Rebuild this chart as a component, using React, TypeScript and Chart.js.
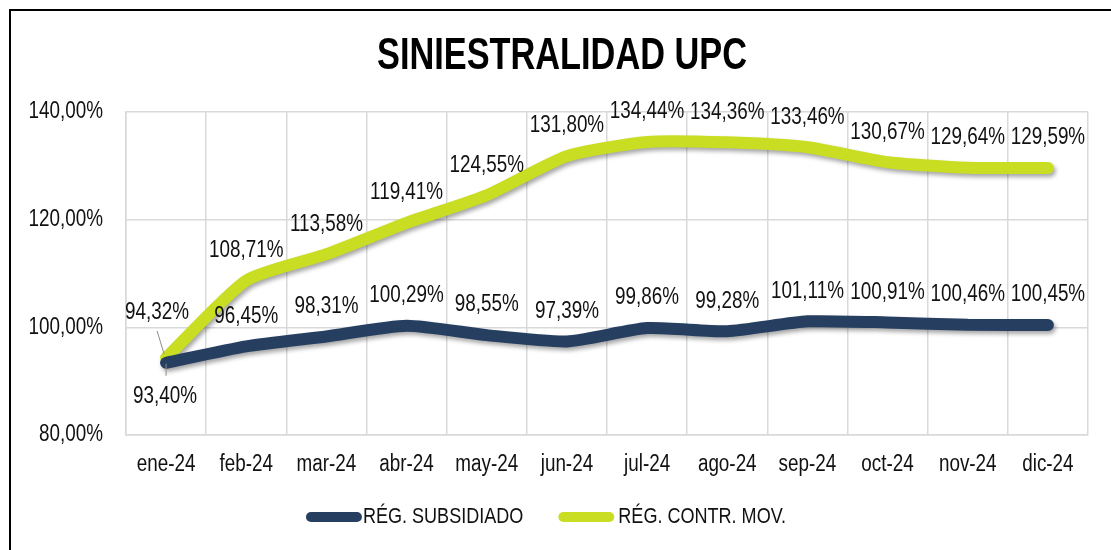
import { useEffect, useRef } from "react";
import { Chart, registerables } from "chart.js";

Chart.register(...registerables);

const categories = ["ene-24", "feb-24", "mar-24", "abr-24", "may-24", "jun-24", "jul-24", "ago-24", "sep-24", "oct-24", "nov-24", "dic-24"];
const subsidiado = [93.4, 96.45, 98.31, 100.29, 98.55, 97.39, 99.86, 99.28, 101.11, 100.91, 100.46, 100.45];
const contributivo = [94.32, 108.71, 113.58, 119.41, 124.55, 131.8, 134.44, 134.36, 133.46, 130.67, 129.64, 129.59];
const seriesNames = ["RÉG. SUBSIDIADO", "RÉG. CONTR. MOV."];
const yTicks = [80, 100, 120, 140];
const titleText = "SINIESTRALIDAD UPC";

const FONT = '"Liberation Sans", Arial, sans-serif';
const NARROW = 0.82;
const NAVY = "#263f61";
const LIME = "#c9dd22";
const GRID = "#d9d9d9";
const TEXT = "#111111";

const fmt = (v: number) => v.toFixed(2).replace(".", ",") + "%";

function drawNarrow(ctx: any, text: string, x: number, y: number, align: string, font: string, sx = NARROW) {
  ctx.save();
  ctx.font = font;
  ctx.textAlign = align;
  ctx.textBaseline = "middle";
  ctx.translate(x, y);
  ctx.scale(sx, 1);
  ctx.fillText(text, 0, 0);
  ctx.restore();
}

const shadowPlugin = {
  id: "lineShadow",
  beforeDatasetsDraw(chart: any) {
    const ctx = chart.ctx;
    ctx.save();
    ctx.shadowColor = "rgba(0,0,0,0.35)";
    ctx.shadowBlur = 4;
    ctx.shadowOffsetX = 2;
    ctx.shadowOffsetY = 3;
  },
  afterDatasetsDraw(chart: any) {
    chart.ctx.restore();
  },
};

const labelPlacement: Record<number, Record<number, { dx: number; dy: number; leader?: [number, number, number, number] }>> = {
  0: { 0: { dx: -1, dy: 34, leader: [0, 1, 0, 13] } },
  1: { 0: { dx: -9, dy: -45, leader: [-2, -4, -9, -27] } },
};

const overlayPlugin = {
  id: "overlay",
  afterDraw(chart: any) {
    const ctx = chart.ctx;
    const area = chart.chartArea;
    ctx.save();
    ctx.fillStyle = TEXT;
    const tickFont = `23px ${FONT}`;
    // y tick labels
    const ys = chart.scales.y;
    ys.ticks.forEach((t: any) => {
      drawNarrow(ctx, fmt(t.value), area.left - 23, ys.getPixelForValue(t.value), "right", tickFont);
    });
    // x tick labels
    const xs = chart.scales.x;
    categories.forEach((c, i) => {
      drawNarrow(ctx, c, xs.getPixelForTick(i), area.bottom + 30, "center", tickFont);
    });
    // data labels
    chart.data.datasets.forEach((ds: any, i: number) => {
      const meta = chart.getDatasetMeta(i);
      meta.data.forEach((pt: any, j: number) => {
        const special = labelPlacement[i] && labelPlacement[i][j];
        const dx = special ? special.dx : 0;
        const dy = special ? special.dy : -30;
        if (special && special.leader) {
          const [x1, y1, x2, y2] = special.leader;
          ctx.strokeStyle = "#8c8c8c";
          ctx.lineWidth = 1;
          ctx.beginPath();
          ctx.moveTo(pt.x + x1, pt.y + y1);
          ctx.lineTo(pt.x + x2, pt.y + y2);
          ctx.stroke();
        }
        ctx.fillStyle = TEXT;
        drawNarrow(ctx, fmt(ds.data[j]), pt.x + dx, pt.y + dy, "center", tickFont);
      });
    });
    // title
    ctx.fillStyle = "#000";
    drawNarrow(ctx, titleText, 551, 46, "center", `bold 44px ${FONT}`, 0.78);
    // legend
    const legFont = `22px ${FONT}`;
    ctx.font = legFont;
    const w0 = ctx.measureText(seriesNames[0]).width * NARROW;
    const w1 = ctx.measureText(seriesNames[1]).width * NARROW;
    const markerW = 46;
    const gap = 35;
    const total = (markerW + 10) * 2 + 1 + 4 + w0 + w1 + gap;
    let x = 535 - total / 2;
    const y = 506;
    const colors = [NAVY, LIME];
    const textGap = [1, 4];
    [w0, w1].forEach((w, k) => {
      ctx.strokeStyle = colors[k];
      ctx.lineWidth = 10;
      ctx.lineCap = "round";
      ctx.beginPath();
      ctx.moveTo(x + 5, y);
      ctx.lineTo(x + 5 + markerW, y);
      ctx.stroke();
      x += markerW + 10 + textGap[k];
      ctx.fillStyle = TEXT;
      drawNarrow(ctx, seriesNames[k], x, y, "left", legFont);
      x += w + gap;
    });
    ctx.restore();
  },
};

export default function App() {
  const ref = useRef<HTMLCanvasElement | null>(null);
  useEffect(() => {
    if (!ref.current) return;
    const chart = new Chart(ref.current, {
      type: "line",
      data: {
        labels: categories,
        datasets: [
          {
            label: seriesNames[0],
            data: subsidiado,
            borderColor: NAVY,
            backgroundColor: NAVY,
            borderWidth: 12,
            pointRadius: 0,
            tension: 0.2,
            borderCapStyle: "round",
            borderJoinStyle: "round",
            fill: false,
          },
          {
            label: seriesNames[1],
            data: contributivo,
            borderColor: LIME,
            backgroundColor: LIME,
            borderWidth: 12,
            pointRadius: 0,
            tension: 0.2,
            borderCapStyle: "round",
            borderJoinStyle: "round",
            fill: false,
          },
        ],
      },
      options: {
        responsive: false,
        animation: false,
        layout: { padding: { left: 0, top: 101, right: 25, bottom: 72 } },
        plugins: {
          legend: { display: false },
          title: { display: false },
          tooltip: { enabled: false },
        },
        scales: {
          x: {
            type: "category",
            offset: true,
            grid: { color: GRID, lineWidth: 1.5, drawTicks: false, offset: true },
            border: { color: GRID, width: 1.5 },
            ticks: { display: false, autoSkip: false, maxRotation: 0 },
            afterFit(scale: any) {
              scale.height = 45;
            },
          },
          y: {
            min: 80,
            max: 140,
            grid: { color: GRID, lineWidth: 1.5, drawTicks: false },
            border: { color: GRID, width: 1.5 },
            ticks: { display: false },
            afterBuildTicks(scale: any) {
              scale.ticks = yTicks.map((v) => ({ value: v }));
            },
            afterFit(scale: any) {
              scale.width = 115;
            },
          },
        },
      },
      plugins: [shadowPlugin, overlayPlugin],
    } as any);
    return () => chart.destroy();
  }, []);
  return (
    <div
      style={{
        position: "fixed",
        left: 9,
        top: 9,
        width: 1110,
        height: 550,
        borderTop: "2px solid #000",
        borderLeft: "2px solid #000",
        background: "#fff",
      }}
    >
      <canvas ref={ref} width={1102} height={541} style={{ display: "block" }} />
    </div>
  );
}
